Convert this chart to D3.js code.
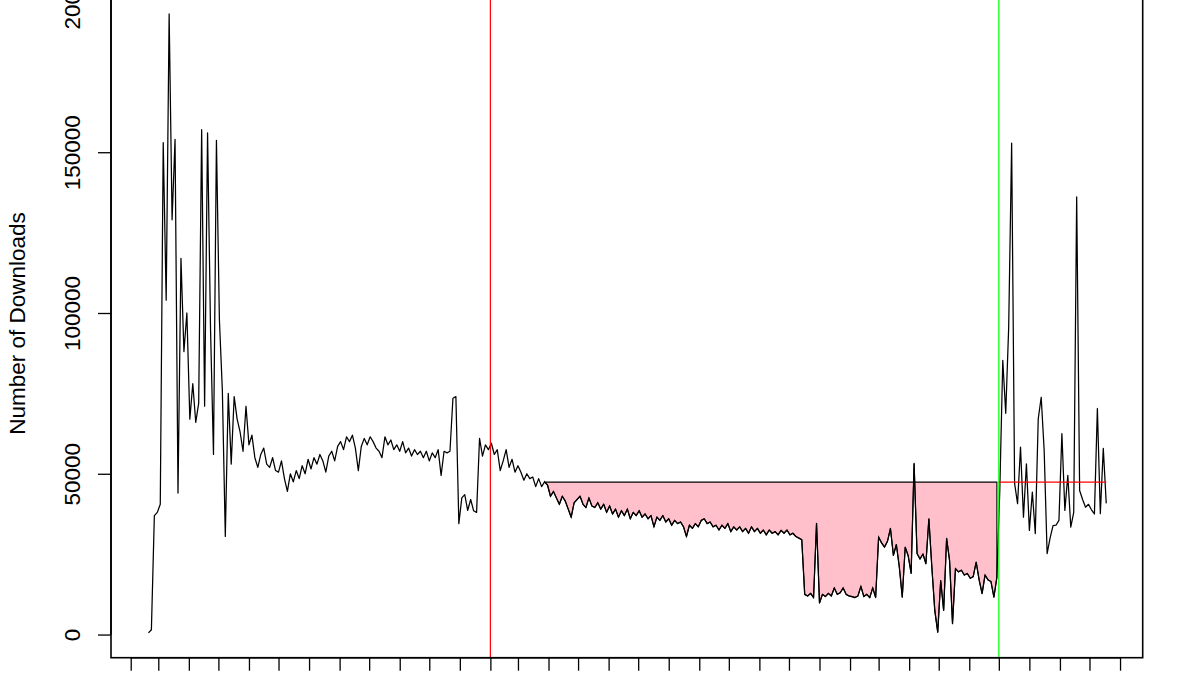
<!DOCTYPE html>
<html><head><meta charset="utf-8">
<script src="https://cdn.jsdelivr.net/npm/d3@7"></script>
<style>
html,body{margin:0;padding:0;background:#fff;}
svg{display:block;}
text{font-family:"Liberation Sans",Arial,Helvetica,sans-serif;}
</style>
</head><body>
<svg id="chart" width="1200" height="675"></svg>
<script>
// ---- data (daily downloads, sampled every 3 days) ----
const startDate = "2014-02-19";
const stepDays = 3;
const downloads = [
500,1500,37000,38000,40500,153000,104000,193000,129000,154000,
44000,117000,88000,100000,67000,78000,66000,72000,157000,71000,
156000,95000,56000,153700,98000,76000,30500,75000,53000,74000,
67000,63000,57000,71000,59000,62000,55000,52000,56000,58000,
53000,52000,55000,51000,50500,54000,48500,44500,50000,47500,
51000,48500,52500,50000,54500,51500,55000,53000,56000,54000,
50500,55500,57000,54000,58500,60000,57500,61500,60000,62000,
58000,51000,58500,61000,59000,61500,60000,58000,57000,55000,
61500,59000,60500,57500,59000,57000,60000,56500,58000,55500,
57500,56000,57000,55000,57000,54000,56500,55000,57500,49500,
57000,56500,57000,73500,74000,34500,42500,43500,38600,42000,
38500,38000,61000,55500,59000,57500,59500,56000,57500,51000,
54000,57500,52000,54500,50500,52500,50500,48000,50000,48500,
49000,46000,48500,46000,47500,46500,43000,44500,42500,40500,
43000,41500,39000,36500,41000,42000,43000,40500,39500,42500,
40000,39500,41000,39000,40500,38000,40000,37500,39000,36500,
38500,37000,39000,36000,38000,37000,38500,36500,37500,36000,
37000,33500,36500,35500,37000,35000,36000,34000,35500,34500,
35000,33500,30500,34000,33000,34500,33500,35500,36000,34500,
35000,33500,34000,32500,34000,33000,34500,32000,33500,32500,
33500,32000,33000,31500,33500,32000,33000,31500,32500,31000,
32500,31500,32000,31000,32400,31500,32500,31000,31500,30500,
30000,29500,12500,12000,12800,11500,34600,9800,12500,11800,
12800,12000,14500,12500,13000,14500,12500,12000,11800,11500,
12000,15000,11800,12500,11500,14500,11500,30300,28500,27200,
29000,33000,24600,28000,21000,11600,27200,24500,19000,53200,
25200,23500,25000,22000,36000,21000,7500,700,16800,7500,
29900,23000,3400,20500,19500,20000,18500,19000,17500,18000,
22500,17000,12700,18500,17000,16500,11600,17800,45000,85300,
68800,95600,152800,47000,40700,58300,36500,53100,32400,44300,
31400,67100,73800,57300,25200,30000,33900,34000,35500,62500,
38600,49500,33400,38000,136100,44800,42000,39600,40500,38800,
37500,70300,37600,57900,40800
];
const yTicks = [0, 50000, 100000, 150000, 200000];
const yTickLabels = ["0", "50000", "100000", "150000", "200000"];
const xLimits = ["2014-01-12", "2016-11-24"];
const xTickRange = ["2014-02-01", "2016-11-01"];
const redDate = "2015-02-01";
const greenDate = "2016-07-01";
const fillStart = "2015-03-28";
const threshold = 47400;
const yLabel = "Number of Downloads";

// ---- layout ----
const plot = {left: 111, right: 1142.7, top: -10.8, bottom: 657.7};
const parse = d3.utcParse("%Y-%m-%d");
const t0 = parse(startDate);
const series = downloads.map((v, i) => ({date: d3.utcDay.offset(t0, i * stepDays), value: v}));

const x = d3.scaleUtc().domain(xLimits.map(parse)).range([plot.left, plot.right]);
const ext = d3.extent(downloads);
const pad = (ext[1] - ext[0]) * 0.04;
const y = d3.scaleLinear().domain([ext[0] - pad, ext[1] + pad]).range([plot.bottom, plot.top]);

const svg = d3.select("#chart");

// fill polygon
const fs = parse(fillStart), gd = parse(greenDate), rd = parse(redDate);
const fillPts = series.filter(d => d.date >= fs && d.date <= gd);
const poly = fillPts.map(d => [x(d.date), y(d.value)]);
poly.push([x(fillPts[fillPts.length - 1].date), y(threshold)]);
poly.push([x(fillPts[0].date), y(threshold)]);
svg.append("path")
  .attr("d", "M" + poly.map(p => p.join(",")).join("L") + "Z")
  .attr("fill", "#FFC0CB").attr("stroke", "#000").attr("stroke-width", 1.1);

// data line
const line = d3.line().x(d => x(d.date)).y(d => y(d.value));
svg.append("path").datum(series).attr("d", line)
  .attr("fill", "none").attr("stroke", "#000").attr("stroke-width", 1.25)
  .attr("stroke-linejoin", "round");

// vertical lines
svg.append("line").attr("x1", x(rd)).attr("x2", x(rd)).attr("y1", plot.top).attr("y2", plot.bottom)
  .attr("stroke", "#FF0000").attr("stroke-width", 1.2);
svg.append("line").attr("x1", x(gd)).attr("x2", x(gd)).attr("y1", plot.top).attr("y2", plot.bottom)
  .attr("stroke", "#00FF00").attr("stroke-width", 1.2);

// red horizontal after intervention
svg.append("line").attr("x1", x(gd)).attr("x2", x(series[series.length - 1].date))
  .attr("y1", y(threshold)).attr("y2", y(threshold))
  .attr("stroke", "#FF0000").attr("stroke-width", 1.2);

// box
svg.append("rect").attr("x", plot.left).attr("y", plot.top)
  .attr("width", plot.right - plot.left).attr("height", plot.bottom - plot.top)
  .attr("fill", "none").attr("stroke", "#000").attr("stroke-width", 1.6);

// y axis
const yAxisG = svg.append("g").attr("transform", `translate(${plot.left},0)`)
  .call(d3.axisLeft(y).tickValues(yTicks).tickSize(13).tickFormat((d, i) => yTickLabels[i]));
yAxisG.select(".domain").remove();
yAxisG.selectAll(".tick line").attr("stroke", "#000").attr("stroke-width", 1.3);
yAxisG.selectAll(".tick text")
  .attr("x", null).attr("dy", null)
  .attr("transform", "translate(-31,0) rotate(-90)")
  .attr("text-anchor", "middle")
  .attr("fill", "#000")
  .style("font-size", "22.5px")
  .style("font-family", '"Liberation Sans", Arial, sans-serif');
svg.append("line").attr("x1", plot.left).attr("x2", plot.left)
  .attr("y1", y(yTicks[0])).attr("y2", y(yTicks[yTicks.length - 1]))
  .attr("stroke", "#000").attr("stroke-width", 1.6);

// x axis (monthly ticks, labels fall outside the picture)
const xTicks = d3.utcMonth.range(parse(xTickRange[0]), d3.utcDay.offset(parse(xTickRange[1]), 1));
const xAxisG = svg.append("g").attr("transform", `translate(0,${plot.bottom})`)
  .call(d3.axisBottom(x).tickValues(xTicks).tickSize(13).tickFormat(""));
xAxisG.select(".domain").remove();
xAxisG.selectAll(".tick line").attr("stroke", "#000").attr("stroke-width", 1.3);
svg.append("line").attr("x1", x(xTicks[0])).attr("x2", x(xTicks[xTicks.length - 1]))
  .attr("y1", plot.bottom).attr("y2", plot.bottom)
  .attr("stroke", "#000").attr("stroke-width", 1.6);

// y label
svg.append("text")
  .attr("transform", `translate(25,${(plot.top + plot.bottom) / 2}) rotate(-90)`)
  .attr("text-anchor", "middle")
  .style("font-size", "22.5px")
  .attr("fill", "#000")
  .text(yLabel);
</script>
</body></html>
